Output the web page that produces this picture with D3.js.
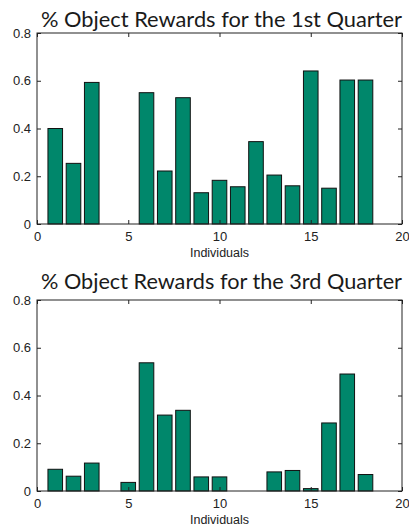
<!DOCTYPE html>
<html><head><meta charset="utf-8">
<script src="https://cdn.jsdelivr.net/npm/d3@7"></script>
<style>body{margin:0;background:#fff}svg{display:block}</style>
</head><body>
<svg id="c" width="409" height="530"></svg>
<script>
const individuals = d3.range(1, 19);
const q1Values = [0.40,0.254,0.593,0,0,0.55,0.222,0.529,0.131,0.183,0.156,0.345,0.205,0.16,0.641,0.15,0.603,0.603];
const q3Values = [0.091,0.062,0.117,0,0.036,0.537,0.318,0.338,0.059,0.059,0,0,0.08,0.086,0.01,0.285,0.49,0.069];
const xTicks = [0,5,10,15,20];
const yTicks = [0,0.2,0.4,0.6,0.8];
const titles = ["% Object Rewards for the 1st Quarter","% Object Rewards for the 3rd Quarter"];
const xLabel = "Individuals";

const svg = d3.select("#c");
const color = "#00876b";

function panel(top, titleY, title, values){
  const L = 37, R = 402, T = top, B = top + 191;
  const x = d3.scaleLinear().domain([0,20]).range([L,R]);
  const y = d3.scaleLinear().domain([0,0.8]).range([B,T]);
  const g = svg.append("g");
  g.append("text").attr("x", 41).attr("y", titleY)
    .attr("font-family","Lato, 'Open Sans', sans-serif").attr("font-size", 22)
    .attr("textLength", 361).attr("lengthAdjust","spacingAndGlyphs")
    .attr("fill","#1a1a1a").text(title);
  const bw = x(0.8) - x(0);
  g.selectAll("rect.bar").data(individuals.map((d,i)=>({i:d,v:values[i]})).filter(d=>d.v>0))
    .enter().append("rect").attr("class","bar")
    .attr("x", d=>x(d.i)-bw/2).attr("width", bw)
    .attr("y", d=>y(d.v)).attr("height", d=>B-y(d.v))
    .attr("fill", color).attr("stroke","#111").attr("stroke-width",1);
  const font = "'Liberation Sans', Arial, sans-serif";
  const ax = g.append("g").attr("transform",`translate(0,${B})`)
    .call(d3.axisBottom(x).tickValues(xTicks).tickSize(-4).tickPadding(8).tickFormat(d3.format("d")));
  const ay = g.append("g").attr("transform",`translate(${L},0)`)
    .call(d3.axisLeft(y).tickValues(yTicks).tickSize(-4).tickPadding(6).tickFormat(d=>d===0?"0":d3.format(".1f")(d)));
  const axT = g.append("g").attr("transform",`translate(0,${T})`)
    .call(d3.axisTop(x).tickValues(xTicks).tickSize(-4).tickFormat(""));
  const ayR = g.append("g").attr("transform",`translate(${R},0)`)
    .call(d3.axisRight(y).tickValues(yTicks).tickSize(-4).tickFormat(""));
  [ax,ay,axT,ayR].forEach(a=>{
    a.selectAll("text").attr("font-family",font).attr("font-size",13).attr("fill","#222");
    a.selectAll("line,path").attr("stroke","#222");
    a.select(".domain").remove();
  });
  g.append("rect").attr("x",L).attr("y",T).attr("width",R-L).attr("height",B-T)
    .attr("fill","none").attr("stroke","#222").attr("stroke-width",1);
  g.append("text").attr("x",(L+R)/2).attr("y",B+33).attr("text-anchor","middle")
    .attr("font-family",font).attr("font-size",12.5).attr("fill","#222").text(xLabel);
}
panel(33, 26.5, titles[0], q1Values);
panel(300, 289, titles[1], q3Values);
</script>
</body></html>
